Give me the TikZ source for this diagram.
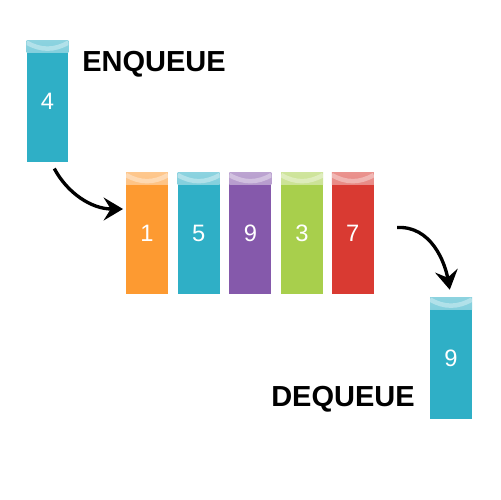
\documentclass[tikz,border=0pt]{standalone}
\usepackage{fontspec}
\setmainfont{Liberation Sans}
\usetikzlibrary{positioning,arrows.meta}
\definecolor{qorange}{HTML}{FD9A31}
\definecolor{qblue}{HTML}{2FAFC6}
\definecolor{qpurple}{HTML}{8559AB}
\definecolor{qgreen}{HTML}{A8CF4C}
\definecolor{qred}{HTML}{D93A32}
\tikzset{
  qblock/.style = {rectangle, fill=#1, minimum width=8.4mm, minimum height=24.4mm,
                   inner sep=0pt, text=white, font=\fontsize{13.5}{14}\selectfont,
                   path picture={
                     \shade[top color=#1!55!white, bottom color=#1]
                       (path picture bounding box.north west) rectangle
                       ([yshift=-2.4mm]path picture bounding box.north east);
                     \draw[white, opacity=.35, line width=.9mm]
                       ([yshift=-.5mm]path picture bounding box.north west)
                       to[out=-30, in=-150]
                       ([yshift=-.5mm]path picture bounding box.north east);
                   }},
  qlabel/.style = {font=\bfseries\fontsize{16.5}{18}\selectfont, inner sep=0pt},
  qflow/.style  = {-{Stealth[length=11pt, width=13pt, inset=4pt]}, line width=1.9pt},
}
\begin{document}
\begin{tikzpicture}[x=0.02cm, y=-0.02cm]
  \useasboundingbox (0,0) rectangle (500,500);
  \fill[white] (0,0) rectangle (500,500);

  % the item that goes in
  \node[qblock=qblue] (enq) at (47.5,101) {4};
  \node[qlabel, anchor=west] (enqlabel) at (82,64) {ENQUEUE};

  % the queue itself
  \node[qblock=qorange] (q1) at (147,233.5) {1};
  \node[qblock=qblue, right=1.8mm of q1] (q2) {5};
  \node[qblock=qpurple, right=1.8mm of q2] (q3) {9};
  \node[qblock=qgreen, right=1.8mm of q3] (q4) {3};
  \node[qblock=qred, right=1.6mm of q4] (q5) {7};

  % the item that comes out
  \node[qblock=qblue] (deq) at (451,358) {9};
  \node[qlabel, anchor=east] (deqlabel) at (415,399) {DEQUEUE};

  \coordinate[above=4.9mm of q1.west] (inend);
  \draw[qflow, shorten <=4pt, shorten >=1.5pt] ([xshift=.7mm]enq.south) to[out=-62, in=180] (inend);
  \coordinate[right=4.6mm of q5.east, yshift=1.2mm] (outstart);
  \draw[qflow, shorten >=4pt] (outstart) to[out=3, in=100] (deq.north);
\end{tikzpicture}
\end{document}
